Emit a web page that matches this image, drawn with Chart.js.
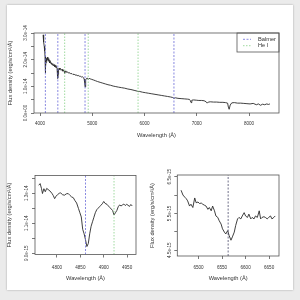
<!DOCTYPE html>
<html>
<head>
<meta charset="utf-8">
<script src="https://cdn.jsdelivr.net/npm/chart.js@4.4.1/dist/chart.umd.min.js"></script>
<style>
  body { margin: 0; background: #ebebeb; width: 300px; height: 300px; overflow: hidden; }
  #card { position: absolute; left: 7px; top: 5px; width: 286px; height: 285px; background: #fff; box-shadow: 0 0 2px rgba(0,0,0,0.3); }
  canvas { position: absolute; }
</style>
</head>
<body>
<div id="card"></div>
<canvas id="spectrum" width="300" height="150" style="left:0;top:0"></canvas>
<canvas id="hbeta" width="150" height="150" style="left:0;top:150px"></canvas>
<canvas id="halpha" width="160" height="150" style="left:140px;top:150px"></canvas>
<script>
// flux values are in units of 1e-14 erg/s/cm²/Å

// full spectrum
const topWave = [4058, 4065, 4072, 4080, 4088, 4095, 4100, 4104, 4108, 4114, 4120, 4126, 4132, 4138, 4144, 4150,
  4158, 4166, 4174, 4182, 4190, 4200, 4210, 4220, 4232, 4244, 4256, 4268, 4280, 4292, 4304, 4316, 4326, 4334,
  4340, 4346, 4354, 4364, 4376, 4390, 4405, 4420, 4435, 4450, 4463, 4471, 4480, 4495, 4510, 4530, 4550, 4570,
  4590, 4610, 4630, 4650, 4670, 4690, 4710, 4730, 4750, 4770, 4790, 4810, 4830, 4845, 4853, 4861, 4868, 4878,
  4890, 4905, 4922, 4940, 4960, 4990, 5020, 5060, 5100, 5150, 5200, 5250, 5300, 5350, 5400, 5450, 5500, 5560,
  5620, 5680, 5740, 5800, 5860, 5876, 5900, 5960, 6020, 6080, 6140, 6200, 6260, 6320, 6380, 6440, 6500, 6540,
  6563, 6590, 6640, 6700, 6760, 6820, 6860, 6875, 6890, 6905, 6940, 6990, 7040, 7090, 7140, 7180, 7200, 7220,
  7260, 7320, 7380, 7440, 7500, 7550, 7590, 7605, 7620, 7640, 7670, 7720, 7780, 7840, 7900, 7960, 8020, 8080,
  8140, 8180, 8220, 8260, 8300, 8340, 8370, 8400];
const topFlux = [2.93, 2.80, 2.66, 2.50, 2.33, 2.12, 1.80, 1.50, 1.72, 1.90, 1.98, 2.05, 1.95, 2.08, 2.00, 2.10,
  1.96, 2.04, 1.92, 1.98, 1.88, 1.93, 1.84, 1.88, 1.80, 1.85, 1.77, 1.81, 1.74, 1.78, 1.71, 1.72, 1.66, 1.55,
  1.30, 1.45, 1.62, 1.68, 1.63, 1.67, 1.60, 1.64, 1.57, 1.60, 1.55, 1.49, 1.56, 1.58, 1.52, 1.54, 1.49, 1.51,
  1.47, 1.48, 1.44, 1.46, 1.42, 1.43, 1.40, 1.41, 1.38, 1.38, 1.35, 1.36, 1.33, 1.27, 1.15, 0.98, 1.12, 1.24,
  1.30, 1.31, 1.26, 1.30, 1.28, 1.26, 1.24, 1.21, 1.18, 1.15, 1.12, 1.09, 1.06, 1.04, 1.01, 0.99, 0.97, 0.95,
  0.93, 0.90, 0.88, 0.85, 0.82, 0.80, 0.81, 0.78, 0.76, 0.74, 0.72, 0.70, 0.68, 0.66, 0.64, 0.62, 0.60, 0.58,
  0.55, 0.57, 0.55, 0.54, 0.53, 0.52, 0.51, 0.47, 0.39, 0.48, 0.49, 0.48, 0.47, 0.47, 0.46, 0.42, 0.37, 0.41,
  0.42, 0.41, 0.41, 0.40, 0.40, 0.39, 0.37, 0.22, 0.14, 0.30, 0.38, 0.39, 0.37, 0.37, 0.36, 0.35, 0.34, 0.36,
  0.31, 0.34, 0.29, 0.33, 0.31, 0.34, 0.32, 0.34];

// H-beta window
const hbWave = [4761, 4764, 4767, 4769, 4772, 4775, 4778, 4781, 4785, 4789, 4792, 4795, 4798, 4801, 4805, 4808,
  4812, 4816, 4820, 4824, 4828, 4831, 4835, 4838, 4842, 4846, 4849, 4852, 4855, 4858, 4861, 4864, 4867, 4870,
  4873, 4876, 4879, 4882, 4885, 4888, 4891, 4894, 4897, 4900, 4903, 4907, 4910, 4913, 4916, 4919, 4922, 4925,
  4928, 4931, 4934, 4937, 4940, 4943, 4946, 4949, 4952, 4955, 4958, 4961];
const hbFlux = [1.353, 1.364, 1.330, 1.298, 1.330, 1.310, 1.332, 1.325, 1.315, 1.300, 1.285, 1.264, 1.280, 1.290,
  1.300, 1.302, 1.290, 1.287, 1.296, 1.298, 1.285, 1.276, 1.270, 1.253, 1.235, 1.198, 1.170, 1.142, 1.060, 1.030,
  0.990, 0.945, 0.965, 1.030, 1.080, 1.110, 1.140, 1.170, 1.190, 1.200, 1.210, 1.220, 1.230, 1.245, 1.232, 1.226,
  1.215, 1.205, 1.195, 1.185, 1.155, 1.170, 1.185, 1.210, 1.222, 1.215, 1.222, 1.228, 1.218, 1.226, 1.220, 1.212,
  1.225, 1.215];

// H-alpha window
const haWave = [6463, 6467, 6471, 6474, 6477, 6481, 6484, 6488, 6492, 6495, 6499, 6502, 6506, 6509, 6513, 6516,
  6520, 6523, 6527, 6530, 6534, 6537, 6541, 6544, 6548, 6551, 6555, 6558, 6562, 6565, 6569, 6572, 6576, 6579,
  6583, 6586, 6590, 6593, 6597, 6600, 6604, 6607, 6611, 6614, 6618, 6621, 6625, 6629, 6632, 6635, 6639, 6642,
  6646, 6649, 6653, 6656, 6660, 6663];
const haFlux = [0.613, 0.600, 0.594, 0.590, 0.584, 0.570, 0.575, 0.566, 0.592, 0.579, 0.581, 0.577, 0.578, 0.575,
  0.572, 0.570, 0.561, 0.566, 0.557, 0.570, 0.557, 0.543, 0.539, 0.530, 0.521, 0.508, 0.499, 0.494, 0.503, 0.490,
  0.477, 0.486, 0.499, 0.517, 0.535, 0.539, 0.535, 0.543, 0.552, 0.543, 0.539, 0.548, 0.535, 0.539, 0.535, 0.543,
  0.539, 0.557, 0.535, 0.539, 0.541, 0.539, 0.535, 0.539, 0.543, 0.535, 0.539, 0.543];

const balmerLines = [4102, 4340, 4861, 6563];
const heLines = [4471, 4922, 5876];

const topXTicks = [4000, 5000, 6000, 7000, 8000];
const topYTicks = [0, 0.5, 1, 1.5, 2, 2.5, 3];
const topYLabels = ['0.0e+00', '', '1.0e-14', '', '2.0e-14', '', '3.0e-14'];
const hbXTicks = [4800, 4850, 4900, 4950];
const hbYTicks = [0.9, 1.0, 1.1, 1.2, 1.3, 1.4];
const hbYLabels = ['9.0e-15', '', '1.1e-14', '', '1.3e-14', ''];
const haXTicks = [6500, 6550, 6600, 6650];
const haYTicks = [0.45, 0.5, 0.55, 0.6, 0.65];
const haYLabels = ['4.5e-15', '', '5.5e-15', '', '6.5e-15'];

const FONT = "'Liberation Sans', Arial, sans-serif";
const INK = '#333';
const AXIS = '#555';
const BALMER = '#6b6bd8';
const HEI = '#88d088';

function xy(xs, ys) { return xs.map((x, i) => ({x: x, y: ys[i]})); }

// vertical marker lines, broken apart by null points
function vlines(ws, lo, hi) {
  const out = [];
  ws.forEach(w => out.push({x: w, y: lo}, {x: w, y: hi}, {x: w, y: null}));
  return out;
}

// box, rotated y labels and the in-plot legend, R style
function rFrame(yTicks, yLabels, withLegend) {
  return {
    id: 'rFrame',
    afterDraw(chart) {
      const {ctx, chartArea: a} = chart;
      const ys = chart.scales.y;
      ctx.save();
      ctx.strokeStyle = AXIS;
      ctx.lineWidth = 0.8;
      ctx.strokeRect(a.left, a.top, a.right - a.left, a.bottom - a.top);
      ctx.fillStyle = INK;
      ctx.font = '4.6px ' + FONT;
      ctx.textAlign = 'center';
      ctx.textBaseline = 'middle';
      yTicks.forEach((v, i) => {
        if (!yLabels[i]) return;
        ctx.save();
        ctx.translate(a.left - 8, ys.getPixelForValue(v));
        ctx.rotate(-Math.PI / 2);
        ctx.fillText(yLabels[i], 0, 0);
        ctx.restore();
      });
      if (withLegend) {
        const items = chart.data.datasets.filter(d => d.label);
        const w = 42, h = 19;
        const x0 = a.right - w, y0 = a.top;
        ctx.strokeRect(x0, y0, w, h);
        ctx.font = '5.7px ' + FONT;
        ctx.textAlign = 'left';
        items.forEach((d, i) => {
          const yy = y0 + 6.3 + i * 6.4;
          ctx.strokeStyle = d.borderColor;
          ctx.setLineDash(d.borderDash);
          ctx.beginPath();
          ctx.moveTo(x0 + 6, yy);
          ctx.lineTo(x0 + 14, yy);
          ctx.stroke();
          ctx.setLineDash([]);
          ctx.fillText(d.label, x0 + 21, yy);
        });
      }
      ctx.restore();
    }
  };
}

function panel(id, p) {
  const markers = p.markers.map(m => ({
    label: m.label,
    data: vlines(m.waves, p.yMin, p.yMax),
    borderColor: m.color,
    borderDash: m.dash,
    borderWidth: 0.8,
    spanGaps: false
  }));
  const spec = {
    data: xy(p.wave, p.flux),
    borderColor: '#2a2a2a',
    borderWidth: 0.9
  };
  new Chart(document.getElementById(id), {
    type: 'line',
    data: {datasets: markers.concat([spec])},
    options: {
      responsive: false,
      animation: false,
      devicePixelRatio: 1,
      events: [],
      layout: {padding: {left: 0, top: p.padTop, right: p.padRight, bottom: 0}},
      elements: {point: {radius: 0}, line: {tension: 0}},
      plugins: {legend: {display: false}, tooltip: {enabled: false}},
      scales: {
        x: {
          type: 'linear',
          min: p.xMin,
          max: p.xMax,
          afterBuildTicks: s => { s.ticks = p.xTicks.map(v => ({value: v})); },
          afterFit: s => { s.height = p.xHeight; },
          grid: {drawOnChartArea: false, drawTicks: true, tickLength: 3, color: AXIS, lineWidth: 0.8},
          border: {display: false},
          ticks: {
            autoSkip: false, maxRotation: 0, minRotation: 0, padding: p.xTickPad,
            color: INK, font: {family: FONT, size: 4.6},
            callback: v => String(v)
          },
          title: {
            display: true, text: 'Wavelength (Å)', color: INK,
            font: {family: FONT, size: 5.7}, padding: {top: 0, bottom: p.xTitlePad}
          }
        },
        y: {
          type: 'linear',
          min: p.yMin,
          max: p.yMax,
          afterBuildTicks: s => { s.ticks = p.yTicks.map(v => ({value: v})); },
          afterFit: s => { s.width = p.yWidth; },
          grid: {drawOnChartArea: false, drawTicks: true, tickLength: 3, color: AXIS, lineWidth: 0.8},
          border: {display: false},
          ticks: {display: false},
          title: {
            display: true, text: 'Flux density (erg/s/cm²/Å)', color: INK,
            font: {family: FONT, size: 5.7}, padding: {top: p.yTitlePad, bottom: 0}
          }
        }
      }
    },
    plugins: [rFrame(p.yTicks, p.yLabels, p.legend)]
  });
}

panel('spectrum', {
  wave: topWave, flux: topFlux,
  markers: [
    {label: 'Balmer', waves: balmerLines, color: BALMER, dash: [2, 1.5]},
    {label: 'He I', waves: heLines, color: HEI, dash: [1.5, 1.5]}
  ],
  xMin: 3884, xMax: 8574, xTicks: topXTicks,
  yMin: 0, yMax: 3, yTicks: topYTicks, yLabels: topYLabels,
  padTop: 33, padRight: 21, yWidth: 34, xHeight: 37,
  xTickPad: 4.7, xTitlePad: 11.6, yTitlePad: 6.6, legend: true
});

panel('hbeta', {
  wave: hbWave, flux: hbFlux,
  markers: [
    {waves: [balmerLines[2]], color: BALMER, dash: [2, 1.5]},
    {waves: [heLines[1]], color: HEI, dash: [1.5, 1.5]}
  ],
  xMin: 4753, xMax: 4969, xTicks: hbXTicks,
  yMin: 0.892, yMax: 1.418, yTicks: hbYTicks, yLabels: hbYLabels,
  padTop: 25.5, padRight: 14, yWidth: 35, xHeight: 45.5,
  xTickPad: 7.2, xTitlePad: 18.6, yTitlePad: 5.9, legend: false
});

panel('halpha', {
  wave: haWave, flux: haFlux,
  markers: [
    {waves: [balmerLines[3]], color: '#4b4b6b', dash: [2, 1.5]}
  ],
  xMin: 6455, xMax: 6671, xTicks: haXTicks,
  yMin: 0.434, yMax: 0.6545, yTicks: haYTicks, yLabels: haYLabels,
  padTop: 25, padRight: 21, yWidth: 37.3, xHeight: 44,
  xTickPad: 5.7, xTitlePad: 18.6, yTitlePad: 9.3, legend: false
});
</script>
</body>
</html>
